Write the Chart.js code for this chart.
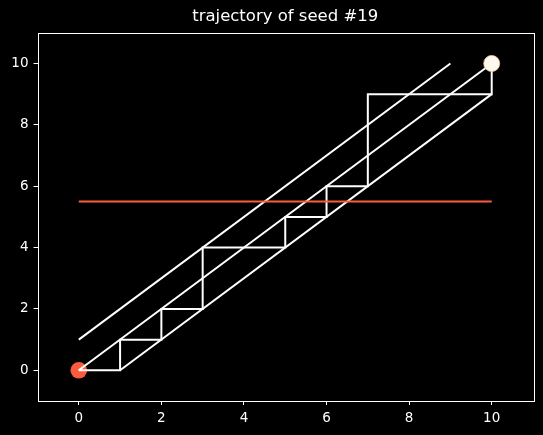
<!DOCTYPE html>
<html>
<head>
<meta charset="utf-8">
<script src="https://cdn.jsdelivr.net/npm/chart.js@4"></script>
<style>
  html, body { margin: 0; padding: 0; background: #000; }
</style>
</head>
<body>
<canvas id="grafico" width="543" height="435"></canvas>
<script>
// dados da trajetoria
const stairX = [0, 1, 1, 2, 2, 3, 3, 5, 5, 6, 6, 7, 7, 10, 10];
const stairY = [0, 0, 1, 1, 2, 2, 4, 4, 5, 5, 6, 6, 9, 9, 10];
// diagonais (inicio -> fim)
const diagStartX = [0, 0, 1];
const diagStartY = [1, 0, 0];
const diagEndX = [9, 10, 10];
const diagEndY = [10, 10, 9];
// linha horizontal vermelha
const limiteX = [0, 10];
const limiteY = 5.5;
// pontos inicial e final
const inicio = [0, 0];
const fim = [10, 10];
// ticks
const xTicks = [0, 2, 4, 6, 8, 10];
const yTicks = [0, 2, 4, 6, 8, 10];

const vermelho = '#fc5b3e';
const branco = '#ffffff';

let datasets = [];

datasets.push({
    data: [{ x: inicio[0], y: inicio[1] }],
    pointRadius: 8.3,
    pointBackgroundColor: vermelho,
    pointBorderWidth: 0,
    showLine: false,
    order: 5
});

for (let i = 0; i < diagStartX.length; i++) {
    datasets.push({
        data: [{ x: diagStartX[i], y: diagStartY[i] }, { x: diagEndX[i], y: diagEndY[i] }],
        showLine: true,
        borderColor: branco,
        borderWidth: 2,
        pointRadius: 0,
        order: 4
    });
}

let escada = [];
for (let i = 0; i < stairX.length; i++) {
    escada.push({ x: stairX[i], y: stairY[i] });
}
datasets.push({
    data: escada,
    showLine: true,
    borderColor: branco,
    borderWidth: 2,
    pointRadius: 0,
    borderJoinStyle: 'miter',
    order: 4
});

datasets.push({
    data: [{ x: limiteX[0], y: limiteY }, { x: limiteX[1], y: limiteY }],
    showLine: true,
    borderColor: vermelho,
    borderWidth: 2,
    pointRadius: 0,
    order: 2
});

datasets.push({
    data: [{ x: fim[0], y: fim[1] }],
    pointRadius: 8,
    pointBackgroundColor: '#fff8ee',
    pointBorderColor: '#f1c9a2',
    pointBorderWidth: 0.8,
    showLine: false,
    order: 1
});

// moldura em volta da area do grafico
const moldura = {
    id: 'moldura',
    afterDraw(chart) {
        const a = chart.chartArea;
        const ctx = chart.ctx;
        ctx.save();
        ctx.strokeStyle = branco;
        ctx.lineWidth = 1;
        ctx.strokeRect(Math.round(a.left) + 0.5, Math.round(a.top) + 0.5,
            Math.round(a.right - a.left), Math.round(a.bottom - a.top));
        ctx.restore();
    }
};

const fonte = { family: 'DejaVu Sans', size: 13.5 };

new Chart(document.getElementById('grafico'), {
    type: 'scatter',
    data: { datasets: datasets },
    plugins: [moldura],
    options: {
        responsive: false,
        animation: false,
        layout: { padding: { left: 0, right: 10, top: 0, bottom: 0 } },
        plugins: {
            legend: { display: false },
            tooltip: { enabled: false },
            title: {
                display: true,
                fullSize: false,
                text: 'trajectory of seed #19',
                color: branco,
                font: { family: 'DejaVu Sans', size: 16.5, weight: 'normal' },
                padding: { top: 7, bottom: 6 }
            }
        },
        scales: {
            x: {
                type: 'linear',
                min: -1,
                max: 11,
                afterBuildTicks: (s) => { s.ticks = xTicks.map(v => ({ value: v })); },
                afterFit: (s) => { s.height = 34; },
                grid: { display: true, drawOnChartArea: false, tickLength: 4, tickColor: branco, color: branco },
                border: { display: false },
                ticks: { color: branco, font: fonte, padding: 5, maxRotation: 0 }
            },
            y: {
                type: 'linear',
                min: -1,
                max: 11,
                afterBuildTicks: (s) => { s.ticks = yTicks.map(v => ({ value: v })); },
                afterFit: (s) => { s.width = 37.5; },
                grid: { display: true, drawOnChartArea: false, tickLength: 4, tickColor: branco, color: branco },
                border: { display: false },
                ticks: { color: branco, font: fonte, padding: 5 }
            }
        }
    }
});
</script>
</body>
</html>
